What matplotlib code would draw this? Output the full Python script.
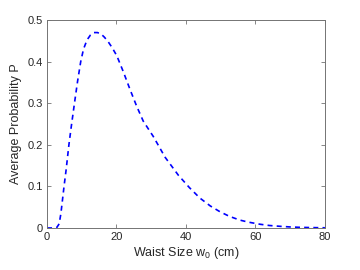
import matplotlib
matplotlib.use('Agg')
import matplotlib.pyplot as plt
from matplotlib.ticker import FuncFormatter

# 腰围尺寸 w0 (cm) 与平均概率 P
waist = [0, 2, 2.8, 3.5, 4, 4.9, 5.5, 6.3, 7, 7.9, 8.8, 9.7, 10.5, 11.5, 12.5,
         13.5, 14.5, 15.5, 16.5, 17.6, 18.8, 20.1, 22.0, 23.9, 25.8, 27.7, 30.6,
         34, 37.8, 41, 44, 47, 49.8, 52.5, 55.5, 58, 61.3, 64, 67.1, 70, 73, 76, 80]
prob = [0, 0, 0.001, 0.01, 0.035, 0.1, 0.14, 0.2, 0.245, 0.3, 0.353, 0.4, 0.43,
        0.452, 0.464, 0.47, 0.47, 0.467, 0.459, 0.448, 0.433, 0.414, 0.375, 0.333,
        0.293, 0.257, 0.22, 0.17, 0.127, 0.097, 0.072, 0.053, 0.039, 0.028, 0.019,
        0.014, 0.009, 0.006, 0.004, 0.0025, 0.0015, 0.001, 0.0005]

xticks = [0, 20, 40, 60, 80]
yticks = [0, 0.1, 0.2, 0.3, 0.4, 0.5]

plt.rcParams['font.family'] = ['Liberation Sans', 'DejaVu Sans']
plt.rcParams['mathtext.fontset'] = 'custom'
plt.rcParams['mathtext.rm'] = 'Liberation Sans'
plt.rcParams['mathtext.it'] = 'Liberation Sans'

fig = plt.figure(figsize=(3.6, 2.7), dpi=100)
ax = fig.add_axes([0.1306, 0.1556, 0.772, 0.770])

ax.plot(waist, prob, color='#0000ff', linestyle='--', linewidth=1.2, dashes=(3, 2.5))

ax.set_xlim(0, 80)
ax.set_ylim(0, 0.5)
ax.set_xticks(xticks)
ax.set_yticks(yticks)
ax.yaxis.set_major_formatter(FuncFormatter(lambda v, p: '0' if v == 0 else f'{v:g}'))

grey = '0.45'
for s in ax.spines.values():
    s.set_color(grey)
    s.set_linewidth(0.7)
ax.tick_params(direction='in', length=3, width=0.6, color=grey,
               top=True, right=True, labelsize=8, labelcolor='0.15', pad=3)

ax.set_xlabel('Waist Size w$_{\\mathrm{0}}$ (cm)', fontsize=9, color='0.15', labelpad=2)
ax.set_ylabel('Average Probability P', fontsize=9, color='0.15', labelpad=4)

fig.savefig('out.png', dpi=100)
